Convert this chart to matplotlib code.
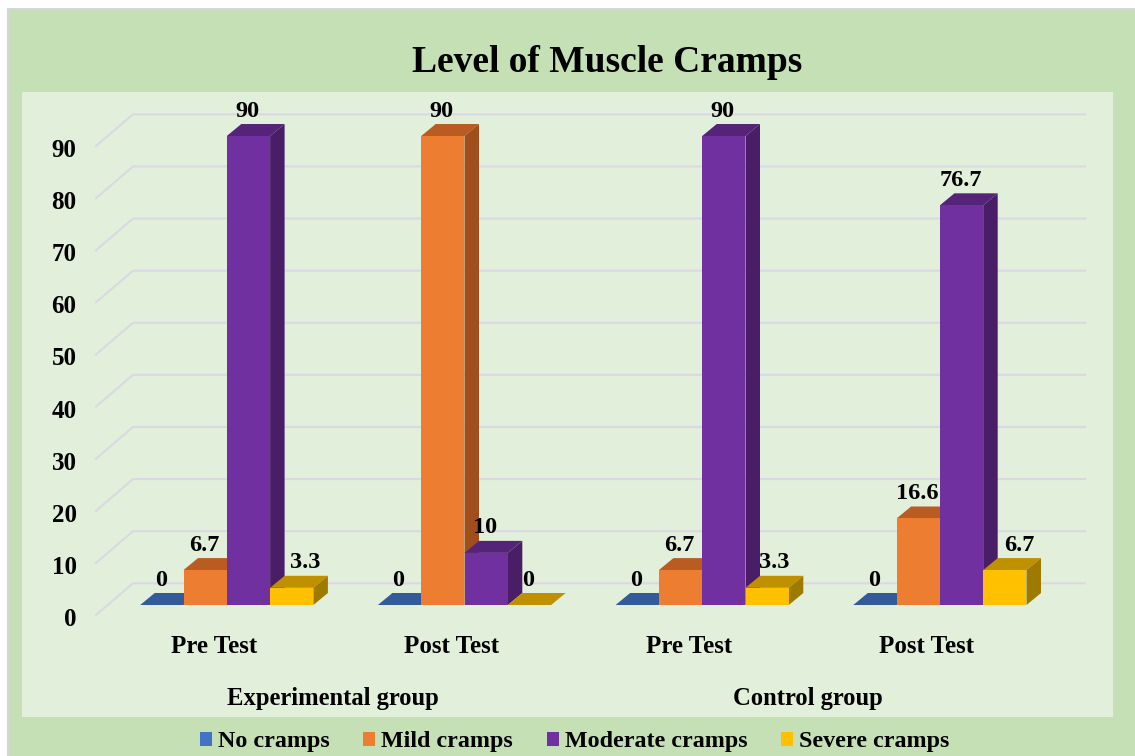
import matplotlib
matplotlib.use("Agg")
import matplotlib.pyplot as plt
from matplotlib.patches import Rectangle, Patch
import numpy as np

categories = ["Pre Test", "Post Test", "Pre Test", "Post Test"]
groups = ["Experimental group", "Control group"]
no_cramps = [0, 0, 0, 0]
mild_cramps = [6.7, 90, 6.7, 16.6]
moderate_cramps = [90, 10, 90, 76.7]
severe_cramps = [3.3, 0, 3.3, 6.7]
series_names = ["No cramps", "Mild cramps", "Moderate cramps", "Severe cramps"]
y_ticks = [0, 10, 20, 30, 40, 50, 60, 70, 80, 90]

series = [no_cramps, mild_cramps, moderate_cramps, severe_cramps]
front = ["#4472C4", "#ED7D31", "#7030A0", "#FFC000"]
top = ["#335A9A", "#B85C22", "#552478", "#BF9000"]
side = ["#2B4C85", "#A04E1C", "#4A1E66", "#9E7A00"]

W, H = 1135, 756
plt.rcParams["font.family"] = ["Liberation Serif", "DejaVu Serif"]
plt.rcParams["font.weight"] = "bold"
fig = plt.figure(figsize=(W / 100, H / 100), dpi=100, facecolor="white")

# outer green card and the paler plot panel, in pixels from top left
def box(x0, y0, x1, y1, **kw):
    fig.add_artist(Rectangle((x0 / W, 1 - y1 / H), (x1 - x0) / W, (y1 - y0) / H,
                             transform=fig.transFigure, zorder=-1, **kw))

box(8, 9, W + 5, H + 5, facecolor="#C5E0B4", edgecolor="#D6D6D6", linewidth=1.5)
box(21.5, 91.7, 1112.7, 716.7, facecolor="#E2EFDA", edgecolor="none")

# scale: one category = 237.7 px, one unit = 5.211 px, first category at px 226.8
px_x, px_y = 237.7, 5.211
ax = fig.add_axes([96 / W, 1 - 620 / H, (1085 - 96) / W, (620 - 92) / H])
ax.patch.set_alpha(0)
ax.set_xlim((96 - 226.8) / px_x, (1085 - 226.8) / px_x)
ax.set_ylim((605 - 620) / px_y, (605 - 92) / px_y)
for s in ax.spines.values():
    s.set_visible(False)

# walls of the fake 3d box
wall_x0, wall_x1 = ax.get_xlim()
wall_dx = 37 / px_x
grid_low, grid_high = -10 / px_y, 21.7 / px_y
for v in y_ticks:
    ax.plot([wall_x0, wall_x0 + wall_dx, wall_x1], [v + grid_low, v + grid_high, v + grid_high],
            color="#DAD9E3", lw=1.5, zorder=1, clip_on=False, solid_joinstyle="miter")

ax.set_yticks(np.array(y_ticks) - 12 / px_y, [str(v) for v in y_ticks])
cat_x = np.arange(len(categories))
tick_x = cat_x - 13 / px_x
ax.set_xticks(tick_x, categories)
ax.tick_params(axis="y", length=0, labelsize=18, pad=14)
ax.tick_params(axis="x", length=0, labelsize=18, pad=11)

# bars with the depth faces
bar_w = 43.3 / px_x
dx, dy = 14.5 / px_x, 12 / px_y
label_nudge = {(0, 3): 14, (2, 3): 8, (3, 3): 15}
for i, values in enumerate(series):
    for c, v in enumerate(values):
        x0 = c + (i - 2) * bar_w
        x1 = x0 + bar_w
        zo = 3 + i + c * 10
        ax.bar(x0, v, bar_w, align="edge", color=front[i], zorder=zo + 0.2)
        ax.fill([x0, x1, x1 + dx, x0 + dx], [v, v, v + dy, v + dy], color=top[i], lw=0, zorder=zo)
        if v > 0:
            ax.fill([x1, x1 + dx, x1 + dx, x1], [0, dy, v + dy, v], color=side[i], lw=0, zorder=zo)
        nudge = label_nudge.get((c, i), 0)
        ax.text((x0 + x1) / 2 + (nudge - 1) / px_x, v + 25 / px_y, f"{v:g}", ha="center", va="center",
                fontsize=17.5, zorder=100)

# group captions under the categories
group_y = (605 - 698) / px_y
ax.text(tick_x[:2].mean(), group_y, groups[0], ha="center", va="center", fontsize=17.7, clip_on=False)
ax.text(tick_x[2:].mean(), group_y, groups[1], ha="center", va="center", fontsize=17.7, clip_on=False)

fig.text(607.5 / W, 1 - 63 / H, "Level of Muscle Cramps", ha="center", va="center", fontsize=27)

handles = [Patch(facecolor=c, edgecolor="none") for c in front]
fig.legend(handles, series_names, ncol=4, loc="center", bbox_to_anchor=(574.5 / W, 1 - 742 / H),
           frameon=False, fontsize=17.3, handlelength=0.5, handleheight=0.55, handletextpad=0.25,
           columnspacing=1.4, borderpad=0, borderaxespad=0)

fig.savefig("out.png", dpi=100, facecolor="white")
